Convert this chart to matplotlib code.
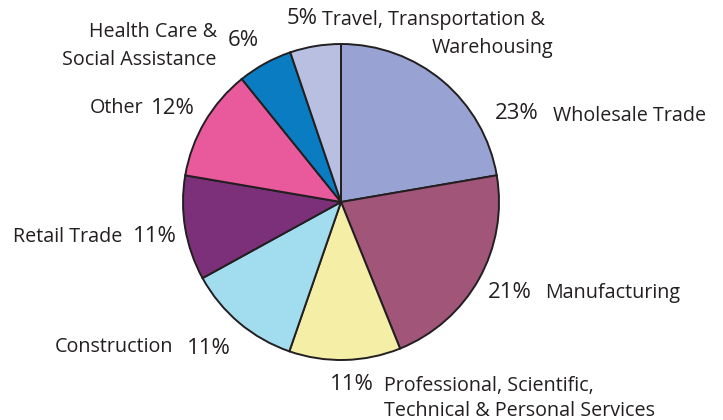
import matplotlib
matplotlib.use("Agg")
import matplotlib.pyplot as plt

categories = ["Wholesale Trade", "Manufacturing",
              "Professional, Scientific,\nTechnical & Personal Services",
              "Construction", "Retail Trade", "Other",
              "Health Care &\nSocial Assistance",
              "Travel, Transportation &\nWarehousing"]
# slice sizes as drawn in the picture
values = [22.3, 21.6, 11.4, 11.7, 10.7, 11.5, 5.6, 5.2]
# percentages as printed on the chart
pct_labels = ["23%", "21%", "11%", "11%", "11%", "12%", "6%", "5%"]
colors = ["#99A3D3", "#A05579", "#F5EEA6", "#A2DCEF", "#7C3079",
          "#E85A9B", "#0A7DC2", "#B8BFE1"]

W, H = 723, 420
fig = plt.figure(figsize=(W / 100, H / 100), dpi=100)
cx, cy, R = 341, 202, 158
ax = fig.add_axes([(cx - R) / W, (H - cy - R) / H, 2 * R / W, 2 * R / H])
ax.pie(values, colors=colors, startangle=90, counterclock=False, radius=1,
       normalize=True,
       wedgeprops=dict(edgecolor="#231F20", linewidth=1.4))
ax.set_xlim(-1, 1)
ax.set_ylim(-1, 1)
ax.set_aspect("equal")
ax.axis("off")

TC = "#231F20"
FAM = ["Open Sans", "DejaVu Sans"]
LS = 14.2
PS = 16.0


def t(px, py, s, ha="left", size=LS, va="center", **kw):
    fig.text(px / W, 1 - py / H, s, ha=ha, va=va, fontsize=size,
             color=TC, family=FAM, **kw)


pct = pct_labels
# Wholesale
t(495, 114, pct[0], size=PS)
t(553, 116, categories[0])
# Manufacturing
t(488, 292, pct[1], size=PS)
t(545, 293, categories[1])
# Professional
l1, l2 = categories[2].split("\n")
t(330, 384, pct[2], size=PS)
t(384, 386, l1)
t(384, 411, l2)
# Construction
t(173, 347, categories[3], ha="right")
t(187, 348, pct[3], size=PS)
# Retail
t(122, 237, categories[4], ha="right")
t(133, 236, pct[4], size=PS)
# Other
t(143, 108, categories[5], ha="right")
t(151, 108, pct[5], size=PS)
# Health care
l1, l2 = categories[6].split("\n")
t(217, 32, l1, ha="right")
t(217, 60, l2, ha="right")
t(228, 40, pct[6], size=PS)
# Travel
t(287, 19, pct[7], size=PS)
l1, l2 = categories[7].split("\n")
t(545, 20, l1, ha="right")
t(553, 48, l2, ha="right")

fig.savefig("out.png", dpi=100, facecolor="white")
